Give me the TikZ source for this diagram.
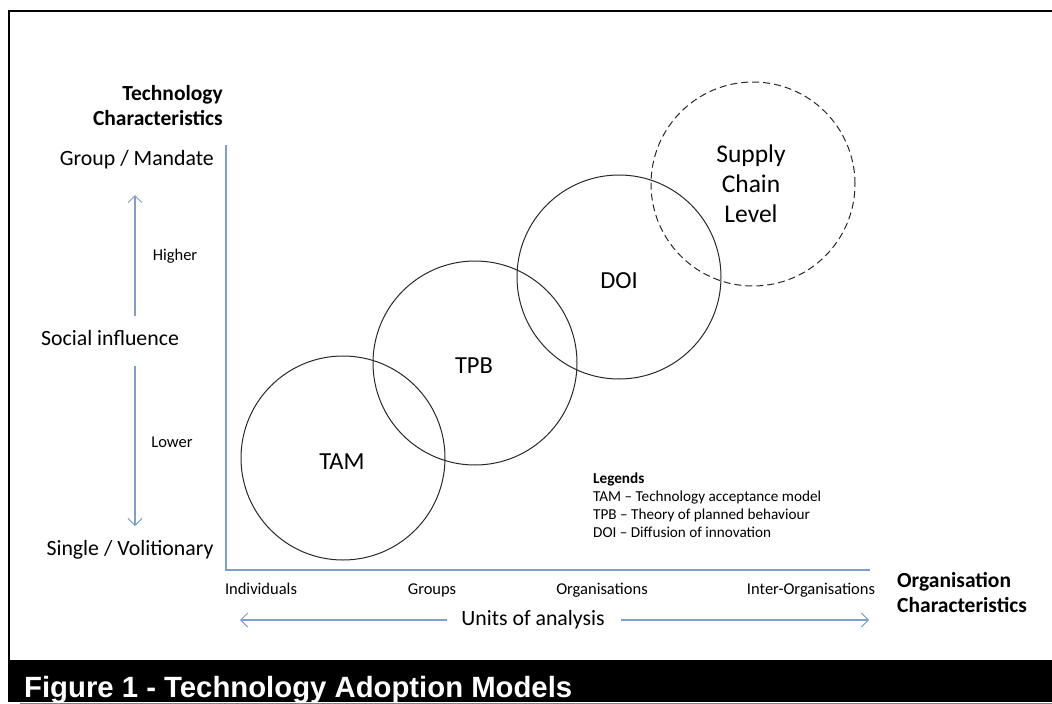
\documentclass[tikz,border=0pt]{standalone}
\usepackage{fontspec}
\setmainfont{Carlito}
\newfontfamily\arialf{Liberation Sans}
\usetikzlibrary{arrows.meta}
\definecolor{axisblue}{RGB}{127,158,206}
\definecolor{circgray}{RGB}{40,40,40}
\begin{document}
\begin{tikzpicture}[x=1pt,y=-1pt,
  axisline/.style={draw=axisblue,line width=1.3pt},
  dirarrow/.style={draw=axisblue,line width=1.1pt,-{Straight Barb[length=7pt,width=14pt,line width=0.9pt]}},
  model/.style={draw=circgray,line width=1pt,circle,minimum size=204pt,inner sep=0pt},
  lbl/.style={font=\fontsize{21.8}{24}\selectfont,inner sep=0pt},
  mlbl/.style={font=\fontsize{24.5}{26}\selectfont,inner sep=0pt},
  small/.style={font=\fontsize{16.5}{18}\selectfont,inner sep=0pt},
  bold/.style={font=\fontsize{21.5}{25}\selectfont\bfseries,inner sep=0pt,align=left}]
\useasboundingbox (0,0) rectangle (1052,704);
% frame
\draw[line width=2pt] (9,660) -- (9,11) -- (1052,11);
\fill[black] (8,660) rectangle (1052,702);
\draw[gray,line width=1pt] (20,703.5) -- (1052,703.5);
\node[anchor=base west,text=white,inner sep=0pt,font=\arialf\fontsize{29.3}{32}\selectfont\bfseries] (cap) at (24,697) {Figure 1 - Technology Adoption Models};
% axes
\coordinate (ytop) at (226,145);
\coordinate (orig) at (226,570);
\coordinate (xend) at (870,570);
\draw[axisline] (ytop) -- (orig) -- (xend);
% circles
\node[model] (tam) at (343,458) {};
\node[model] (tpb) at (475,363) {};
\node[model] (doi) at (619,277) {};
\node[model,dashed,dash pattern=on 7pt off 4pt] (scl) at (753,184) {};
\node[mlbl] at (342,462) {TAM};
\node[mlbl] at (474,366) {TPB};
\node[mlbl] at (619,281) {DOI};
\node[mlbl,font=\fontsize{25.5}{30}\selectfont,align=center] at (751,184) {Supply\\Chain\\Level};
% left side
\node[bold,align=right,anchor=east] (tc) at (223,106) {Technology\\Characteristics};
\node[lbl,anchor=east] (gm) at (214,160) {Group / Mandate};
\node[lbl] (si) at (110,338) {Social influence};
\node[lbl] (sv) at (130,550) {Single / Volitionary};
\coordinate (upS) at (135,316);
\coordinate (upE) at (135,195);
\coordinate (dnS) at (135,366);
\coordinate (dnE) at (135,526);
\draw[dirarrow] (upS) -- (upE);
\draw[dirarrow] (dnS) -- (dnE);
\node[small,anchor=base] (hi) at (175,260) {Higher};
\node[small,anchor=base] (lo) at (172,447) {Lower};
% bottom
\node[small,anchor=base] (ind) at (261,594) {Individuals};
\node[small,anchor=base] (grp) at (432,594) {Groups};
\node[small,anchor=base] (org) at (602,594) {Organisations};
\node[small,anchor=base] (iorg) at (811,594) {Inter-Organisations};
\node[lbl] (ua) at (533,620) {Units of analysis};
\coordinate (lA) at (240,620);
\coordinate (rA) at (869,620);
\draw[dirarrow] (ua.west) ++(-14,0) -- (lA);
\draw[dirarrow] (ua.east) ++(16,0) -- (rA);
\node[bold,anchor=west] (oc) at (897,593) {Organisation\\Characteristics};
% legend
\node[small,anchor=west,align=left,font=\fontsize{15.2}{18}\selectfont] (leg) at (593,505) {\textbf{Legends}\\TAM -- Technology acceptance model\\TPB -- Theory of planned behaviour\\DOI -- Diffusion of innovation};
\end{tikzpicture}
\end{document}
